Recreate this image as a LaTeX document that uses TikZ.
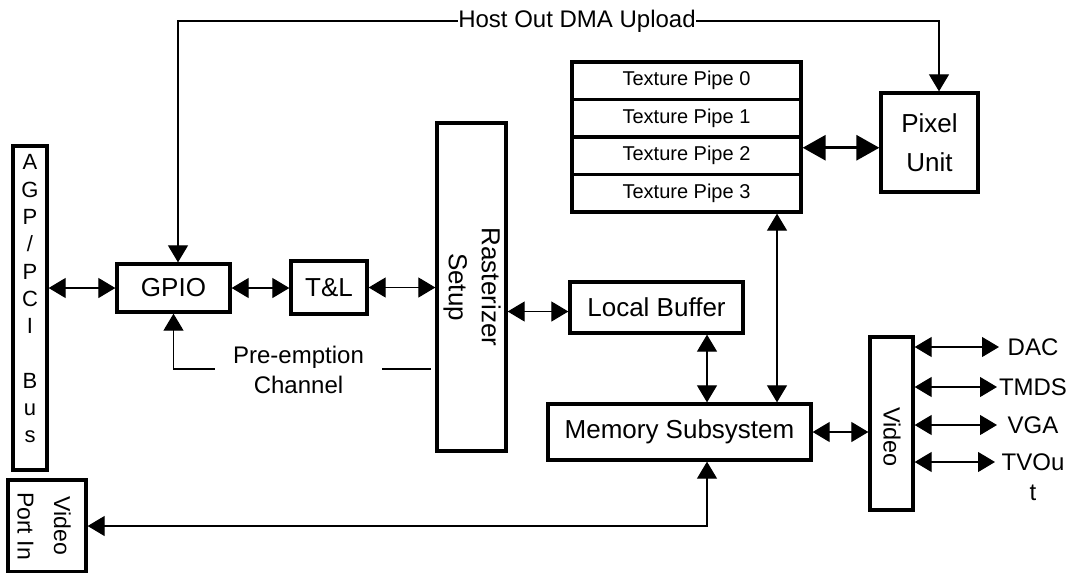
\documentclass[tikz,border=0pt]{standalone}
\usepackage{fontspec}
\setmainfont{Liberation Sans}
\usetikzlibrary{arrows.meta}
\begin{document}
\begin{tikzpicture}[x=1pt,y=-1pt,
  box/.style={draw, line width=3.3pt, inner sep=0pt},
  lbl/.style={font=\fontsize{26}{31}\selectfont},
  small/.style={font=\fontsize{24}{30}\selectfont},
  pipe/.style={box, minimum width=229pt, minimum height=37.5pt, font=\fontsize{20}{24}\selectfont},
  conn/.style={line width=1.1pt, {Triangle[length=17pt,width=20pt]}-{Triangle[length=17pt,width=20pt]}},
  conn1/.style={line width=1.1pt, -{Triangle[length=17pt,width=20pt]}},
  thickconn/.style={line width=3pt, {Triangle[length=23pt,width=25pt]}-{Triangle[length=23pt,width=25pt]}},
 ]
\useasboundingbox (0,0) rectangle (1069,573);

% boxes
\node[box, minimum width=34pt, minimum height=324pt] (agp) at (30,308) {};
\node[align=center, font=\fontsize{22}{27.3}\selectfont, inner sep=0pt] (agptxt) at (30,299) {A\\G\\P\\/\\P\\C\\I\\\mbox{}\\B\\u\\s};

\node[box, minimum width=113pt, minimum height=48pt, lbl] (gpio) at (173.5,288) {GPIO};
\node[box, minimum width=76pt, minimum height=53pt, lbl] (tl) at (329,287.5) {T\&L};

\node[box, minimum width=69pt, minimum height=328pt] (rast) at (471.5,287) {};
\node[rotate=-90, align=center, font=\fontsize{26}{33}\selectfont, inner sep=0pt] (rasttxt) at (472,287) {Rasterizer\\Setup};

\node[box, minimum width=173pt, minimum height=51pt, lbl] (lb) at (656.5,307.5) {Local Buffer};
\node[box, minimum width=263pt, minimum height=56pt, lbl] (mem) at (679.5,432) {Memory Subsystem};

\node[pipe] (tex0) at (686.5,80.75) {Texture Pipe 0};
\node[pipe] (tex1) at (686.5,118.25) {Texture Pipe 1};
\node[pipe] (tex2) at (686.5,155.75) {Texture Pipe 2};
\node[pipe] (tex3) at (686.5,193.25) {Texture Pipe 3};

\node[box, minimum width=97pt, minimum height=99pt, align=center, font=\fontsize{26}{39}\selectfont] (pix) at (929.5,142.5) {Pixel\\Unit};

\node[box, minimum width=43pt, minimum height=173pt] (video) at (891.5,423.5) {};
\node[rotate=-90, font=\fontsize{23.5}{28}\selectfont, inner sep=0pt] (videotxt) at (892,437) {Video};

\node[box, minimum width=78pt, minimum height=92pt] (vpi) at (47,526) {};
\node[rotate=-90, align=center, font=\fontsize{23}{36.5}\selectfont, inner sep=0pt] (vpitxt) at (44,526) {Video\\Port In};

% right labels
\node[small, inner sep=0pt] (dac) at (1033,347) {DAC};
\node[small, inner sep=0pt] (tmds) at (1033,387) {TMDS};
\node[small, inner sep=0pt] (vga) at (1033,425) {VGA};
\node[small, inner sep=0pt, align=center] (tvout) at (1033,477) {TVOu\\t};
\coordinate (dacend) at (999,347);
\coordinate (tmdsend) at (997,387);
\coordinate (vgaend) at (997,425);
\coordinate (tvend) at (995,462);

% connectors
\draw[conn] (agp.east |- gpio.west) -- (gpio.west);
\draw[conn] (gpio.east) -- (gpio.east -| tl.west);
\draw[conn] (tl.east) -- (tl.east -| rast.west);
\draw[conn] ([yshift=-4pt]lb.west -| rast.east) -- ([yshift=-4pt]lb.west);
\draw[conn] ([xshift=50.5pt]lb.south) -- ([xshift=50.5pt]lb.south |- mem.north);
\draw[conn] ([xshift=90.5pt]tex3.south) -- ([xshift=90.5pt]tex3.south |- mem.north);
\draw[conn] (mem.east) -- (mem.east -| video.west);
\draw[thickconn] ([yshift=8pt]tex2.east) -- ([yshift=8pt]tex2.east -| pix.west);
\draw[conn] ([xshift=27.5pt]mem.south) |- (vpi.east);

\draw[conn] (video.east |- dacend) -- (dacend);
\draw[conn] (video.east |- tmdsend) -- (tmdsend);
\draw[conn] (video.east |- vgaend) -- (vgaend);
\draw[conn] (video.east |- tvend) -- (tvend);

% host out DMA upload
\node[small, inner sep=0.5pt] (host) at (577,21) {Host Out DMA Upload};
\draw[conn1] (host.west) -| ([xshift=4.5pt]gpio.north);
\draw[conn1] (host.east) -| ([xshift=9.5pt]pix.north);

% pre-emption channel
\coordinate (pestart) at (431,369);
\draw[conn1] (pestart) -| (gpio.south);
\node[small, align=center, fill=white, inner xsep=18pt, inner ysep=2pt] (pe) at (298.5,370) {Pre-emption\\Channel};
\end{tikzpicture}
\end{document}
